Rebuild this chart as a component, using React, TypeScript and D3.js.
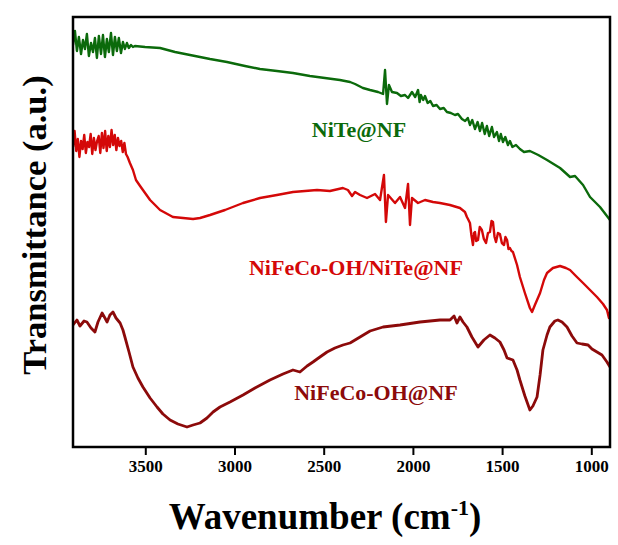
import React from "react";
import * as d3 from "d3";

// Wavenumber (cm-1) / transmittance (a.u., arbitrary offset units)
const niTeWn = [3908,3897,3886,3875,3863,3852,3841,3830,3819,3807,3796,3785,3774,3763,3751,3740,3729,3718,3707,3695,3684,3673,3662,3651,3639,3628,3617,3606,3595,3583,3572,3561,3504,3420,3336,3252,3140,3045,2944,2860,2765,2675,2580,2496,2412,2355,2327,2283,2243,2198,2170,2159,2148,2137,2120,2092,2070,2047,2030,2008,1990,1974,1965,1958,1945,1935,1920,1905,1890,1870,1851,1830,1812,1790,1767,1750,1728,1710,1695,1683,1670,1655,1640,1627,1615,1600,1588,1575,1560,1548,1532,1520,1510,1498,1485,1470,1459,1445,1425,1403,1380,1347,1300,1251,1178,1122,1094,1049,1010,954,898];
const niTeT = [402,416,396,410,393,407,398,413,391,404,395,409,389,411,393,412,390,408,395,414,392,410,396,409,394,405,398,404,399,402,400,401,400,399,395,392,388,385,381,378,376,374,371,369,367,365,363,359,357,355,353,377,343,362,355,354,351,352,349,355,350,357,345,352,347,351,344,346,341,342,338,339,335,334,332,333,328,326,329,322,327,318,325,316,324,313,321,311,320,310,315,306,313,305,310,302,306,300,302,298,295,296,292,287,279,270,271,262,250,240,227];

const composWn = [3908,3899,3890,3881,3872,3863,3854,3845,3836,3827,3818,3809,3800,3791,3782,3773,3764,3755,3746,3737,3728,3719,3710,3701,3692,3683,3674,3665,3656,3647,3638,3629,3620,3611,3602,3589,3572,3555,3532,3516,3476,3420,3348,3291,3235,3196,3140,3056,2955,2860,2765,2675,2540,2468,2395,2367,2344,2327,2299,2260,2215,2187,2165,2154,2142,2103,2075,2047,2030,2019,2008,1974,1935,1890,1851,1795,1739,1711,1700,1694,1683,1675,1666,1660,1655,1648,1638,1628,1616,1605,1593,1582,1571,1562,1554,1545,1537,1526,1515,1504,1492,1484,1475,1467,1459,1450,1442,1419,1403,1375,1347,1335,1319,1290,1268,1251,1218,1178,1145,1122,1089,1049,1010,971,937,915,904,898];
const composT = [300,316,296,308,290,306,298,312,294,305,300,313,293,309,297,306,311,294,314,299,316,296,311,300,317,302,312,297,309,301,306,295,304,293,290,284,277,267,261,257,247,237,230,229,228,229,232,237,244,249,252,255,257,256,259,257,251,255,252,249,253,247,272,225,252,244,250,239,263,222,249,244,247,245,244,242,239,235,230,228,224,212,202,214,215,206,207,220,217,208,204,214,215,226,225,210,205,214,213,204,202,210,207,198,199,196,195,182,170,154,139,135,142,154,167,174,179,181,179,177,171,164,157,150,143,137,129,135];

const ohWn = [3908,3886,3869,3846,3830,3807,3785,3768,3745,3729,3717,3701,3684,3667,3644,3628,3617,3594,3572,3544,3516,3476,3437,3404,3364,3320,3269,3235,3196,3157,3123,3084,3028,2955,2888,2804,2731,2675,2636,2596,2563,2524,2484,2440,2395,2355,2299,2243,2170,2075,1963,1851,1795,1772,1756,1739,1722,1700,1672,1638,1605,1571,1543,1515,1492,1475,1442,1419,1403,1375,1347,1330,1307,1290,1274,1251,1235,1207,1190,1167,1139,1111,1083,1055,1021,999,971,943,915,898];
const ohT = [122,127,121,126,125,119,115,125,134,129,125,132,135,129,124,117,110,95,80,69,60,49,40,33,27,23,20,22,24,29,35,40,45,52,59,67,73,77,75,81,85,90,95,99,102,104,110,116,120,122,125,127,127,131,124,130,125,120,110,100,107,112,109,105,97,89,87,77,67,51,37,41,50,72,97,112,120,126,127,125,120,111,104,103,102,98,95,92,85,80];

const xTicks = [3500, 3000, 2500, 2000, 1500, 1000];

const seriesNames = ["NiTe@NF", "NiFeCo-OH/NiTe@NF", "NiFeCo-OH@NF"];
const seriesColors = ["#0b6a0b", "#d40808", "#8c0a0a"];

const W = 618, H = 545;
const m = { left: 73, right: 610, top: 17, bottom: 447 };
const font = "'Liberation Serif', 'Times New Roman', serif";

export default function App() {
  const x = d3.scaleLinear().domain([3908, 898]).range([m.left, m.right]);
  const y = d3.scaleLinear().domain([0, 430]).range([m.bottom, m.top]);
  const line = d3.line<[number, number]>().x(d => x(d[0])).y(d => y(d[1]));
  const series: [number[], number[]][] = [[niTeWn, niTeT], [composWn, composT], [ohWn, ohT]];
  const widths = [2.4, 2.4, 2.8];
  const labelPos = [
    { wn: 2305, t: 310 },
    { wn: 2322, t: 172 },
    { wn: 2210, t: 47 },
  ];
  return (
    <svg width={W} height={H} style={{ position: "absolute", left: 0, top: 0, background: "#fff" }}>
      <defs>
        <clipPath id="plot">
          <rect x={m.left} y={m.top} width={m.right - m.left} height={m.bottom - m.top} />
        </clipPath>
      </defs>
      <g clipPath="url(#plot)">
        {series.map(([wn, t], i) => (
          <path key={i} d={line(wn.map((w, j) => [w, t[j]] as [number, number])) || ""}
            fill="none" stroke={seriesColors[i]} strokeWidth={widths[i]} strokeLinejoin="round" />
        ))}
      </g>
      <rect x={m.left} y={m.top} width={m.right - m.left} height={m.bottom - m.top}
        fill="none" stroke="#000" strokeWidth={2.5} />
      {xTicks.map(t => (
        <g key={t}>
          <line x1={x(t)} x2={x(t)} y1={m.bottom} y2={m.bottom + 8} stroke="#000" strokeWidth={2} />
          <text x={x(t)} y={472} textAnchor="middle" fontFamily={font} fontWeight="bold" fontSize={17}>{t}</text>
        </g>
      ))}
      {seriesNames.map((n, i) => (
        <text key={n} x={x(labelPos[i].wn)} y={y(labelPos[i].t)} textAnchor="middle"
          fontFamily={font} fontWeight="bold" fontSize={22} fill={seriesColors[i]}>{n}</text>
      ))}
      <text x={325} y={529} textAnchor="middle" fontFamily={font} fontWeight="bold" fontSize={37}>
        Wavenumber (cm<tspan dy={-14} fontSize={22}>-1</tspan><tspan dy={14}>)</tspan>
      </text>
      <text transform={`translate(46, 225) rotate(-90)`} textAnchor="middle" fontFamily={font}
        fontWeight="bold" fontSize={34.5}>Transmittance (a.u.)</text>
    </svg>
  );
}
